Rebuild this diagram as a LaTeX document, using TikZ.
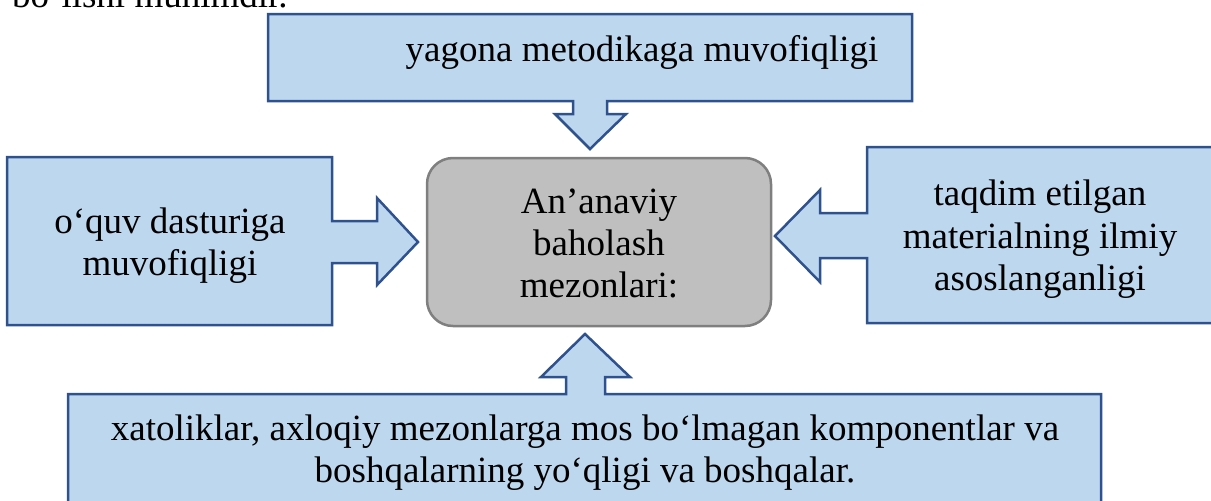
\documentclass[tikz,border=0pt]{standalone}
\usepackage{fontspec}
\setmainfont{Liberation Serif}
\definecolor{callfill}{HTML}{BDD7EE}
\definecolor{calldraw}{HTML}{2F528F}
\definecolor{boxfill}{HTML}{BFBFBF}
\definecolor{boxdraw}{HTML}{7F7F7F}
\tikzset{
  callout/.style={fill=callfill, draw=calldraw, line width=2.5pt, line join=miter},
  centerbox/.style={fill=boxfill, draw=boxdraw, line width=2.5pt, rounded corners=26pt},
  txt/.style={inner sep=0pt, anchor=base, font=\fontsize{37pt}{42pt}\selectfont}
}
\begin{document}
\begin{tikzpicture}[x=1pt,y=-1pt]
\useasboundingbox (0,0) rectangle (1211,501);
\clip (0,0) rectangle (1211,501);
% partial text above
\node[txt, anchor=base west] (prev) at (12,7) {bo‘lishi muhimdir.};
% centre box
\draw[centerbox] (427,158) rectangle (771,326);
\node[txt] (c1) at (599,213) {An’anaviy};
\node[txt] (c2) at (599,255) {baholash};
\node[txt] (c3) at (599,297) {mezonlari:};
% top callout
\draw[callout] (268,14) -- (912,14) -- (912,101) -- (607,101) -- (607,114) -- (626,114)
  -- (590,149) -- (555,114) -- (573,114) -- (573,101) -- (268,101) -- cycle;
\node[txt] (t1) at (642,61) {yagona metodikaga muvofiqligi};
% left callout
\draw[callout] (7,157) -- (332,157) -- (332,221) -- (377,221) -- (377,198) -- (418,242)
  -- (377,285) -- (377,263) -- (332,263) -- (332,325) -- (7,325) -- cycle;
\node[txt] (l1) at (170,233) {o‘quv dasturiga};
\node[txt] (l2) at (170,275) {muvofiqligi};
% right callout
\draw[callout] (1214,147) -- (867,147) -- (867,213) -- (820,213) -- (820,190) -- (775,236)
  -- (820,282) -- (820,258) -- (867,258) -- (867,323) -- (1214,323);
\node[txt] (r1) at (1040,205) {taqdim etilgan};
\node[txt] (r2) at (1040,248) {materialning ilmiy};
\node[txt] (r3) at (1040,290) {asoslanganligi};
% bottom callout
\draw[callout] (68,520) -- (68,394) -- (566,394) -- (566,377) -- (541,377) -- (585,334)
  -- (630,377) -- (605,377) -- (605,394) -- (1101,394) -- (1101,520);
\node[txt] (b1) at (585,440) {xatoliklar, axloqiy mezonlarga mos bo‘lmagan komponentlar va};
\node[txt] (b2) at (585,482) {boshqalarning yo‘qligi va boshqalar.};
\end{tikzpicture}
\end{document}
